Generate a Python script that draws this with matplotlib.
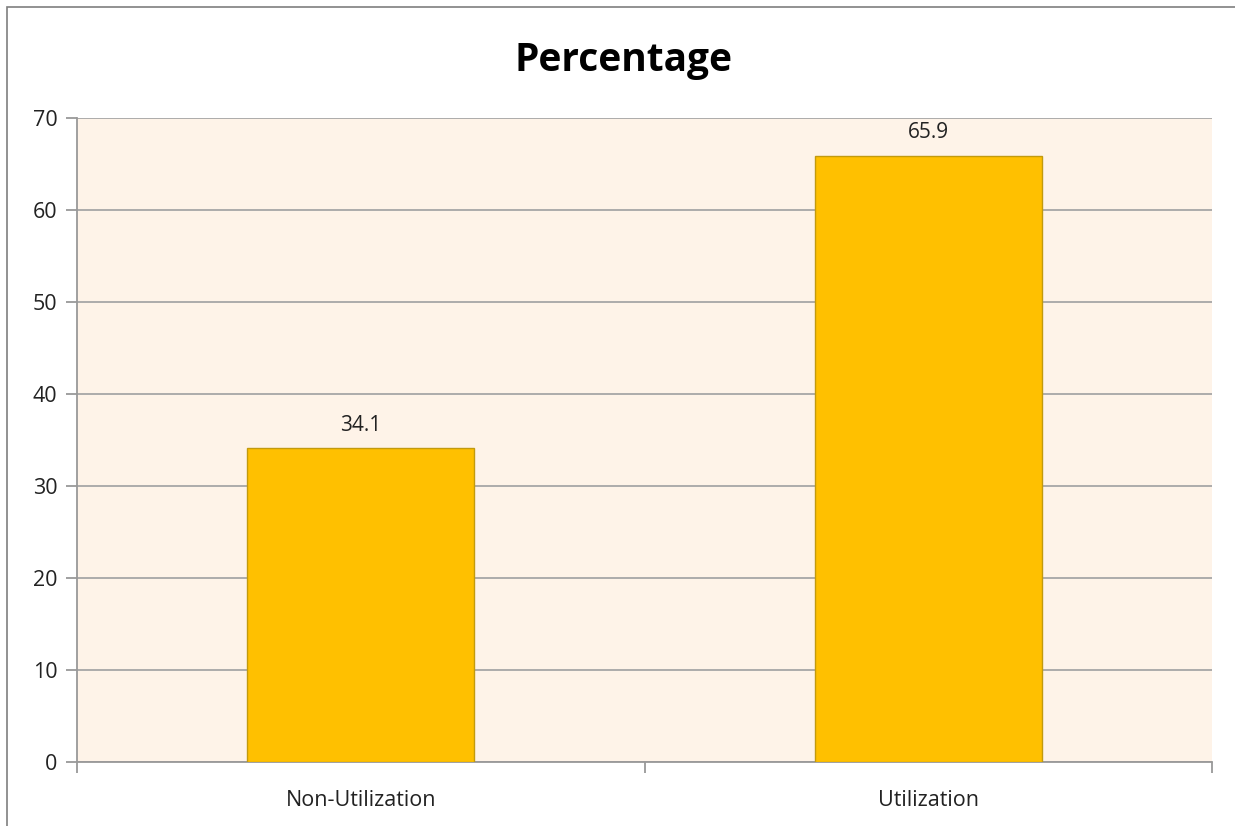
import matplotlib
matplotlib.use("Agg")
import matplotlib.pyplot as plt
from matplotlib.patches import Rectangle

categories = ["Non-Utilization", "Utilization"]
values = [34.1, 65.9]
yticks = [0, 10, 20, 30, 40, 50, 60, 70]
title = "Percentage"

plt.rcParams['font.family'] = ['Open Sans', 'DejaVu Sans']

fig = plt.figure(figsize=(12.35, 8.26), dpi=100)
ax = fig.add_axes([77/1235, 64/826, (1212-77)/1235, (762-118)/826])
ax.set_facecolor('#FEF3E8')

x = list(range(len(categories)))
bars = ax.bar(x, values, width=0.4, color='#FFC000', edgecolor='#C29A0E', linewidth=1.0, zorder=3)
for xi, v in zip(x, values):
    ax.annotate(f"{v}", (xi, v), xytext=(0, 9), textcoords='offset points',
                ha='center', va='bottom', fontsize=15, color='#222222')

ax.set_xlim(-0.5, len(categories) - 0.5)
ax.set_ylim(0, 70)
ax.set_yticks(yticks)
ax.set_yticklabels([str(t) for t in yticks], fontsize=15.5, color='#222222')
ax.yaxis.grid(True, color='#A6A6A6', linewidth=1.3, zorder=0)
ax.set_axisbelow(True)

ax.set_xticks(x)
ax.set_xticklabels(categories, fontsize=15.5, color='#222222')
ax.tick_params(axis='x', length=0, pad=20)
ax.set_xticks([-0.5, 0.5, 1.5], minor=True)
ax.tick_params(axis='x', which='minor', length=8, color='#999999', width=1.3)
ax.tick_params(axis='y', length=8, color='#999999', width=1.3, pad=6)

for s in ['top', 'right']:
    ax.spines[s].set_visible(False)
ax.spines['left'].set_color('#999999')
ax.spines['bottom'].set_color('#999999')
ax.spines['left'].set_linewidth(1.3)
ax.spines['bottom'].set_linewidth(1.3)

fig.text(624/1235, 1 - 60/826, title, ha='center', va='center', fontsize=28, fontweight='bold', color='black')

# chart border
fig.patches.append(Rectangle((7/1235, -0.01), 1.02, 1 - 7/826 + 0.01, transform=fig.transFigure,
                             fill=False, edgecolor='#7F7F7F', linewidth=1.2))

fig.savefig("out.png", dpi=100)
